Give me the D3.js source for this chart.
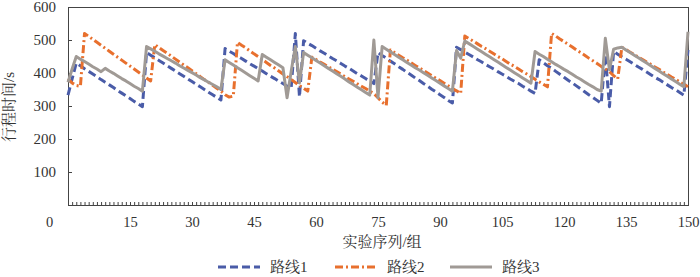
<!DOCTYPE html>
<html>
<head>
  <meta charset="utf-8" />
  <title>行程时间</title>
  <script src="https://cdnjs.cloudflare.com/ajax/libs/d3/7.8.5/d3.min.js"></script>
  <style>
    body { margin: 0; background: #fff; }
    text { font-family: "Liberation Serif", "Noto Serif CJK SC", "Noto Sans CJK SC", serif; fill: #333; }
  </style>
</head>
<body>
  <svg id="chart" width="700" height="277"></svg>
  <script>
    // series names and tick labels
    let names = ['路线1', '路线2', '路线3']
    let xTicks = [0, 15, 30, 45, 60, 75, 90, 105, 120, 135, 150]
    let yTicks = [100, 200, 300, 400, 500, 600]

    let route1 = [
      333, 382, 430, 422, 413, 405, 397, 389, 380, 372, 364, 356, 347, 339, 331, 323, 314, 306, 298,
      462, 454, 446, 438, 430, 422, 414, 406, 398, 390, 382, 374, 366, 358, 350, 342, 334, 326, 318,
      474, 466, 459, 451, 444, 436, 428, 421, 413, 406, 398, 390, 383, 375, 368, 360,
      356, 520, 328, 498, 490, 483, 475, 467, 460, 452, 444, 437, 429, 421, 414, 406, 398, 391, 383, 375, 368,
      462, 453, 445, 436, 428, 419, 411, 402, 394, 385, 377, 368, 360, 351, 343, 334, 326, 317, 309,
      478, 471, 463, 456, 449, 441, 434, 426, 419, 412, 404, 397, 390, 382, 375, 368, 360, 353, 345, 338,
      440, 431, 422, 414, 405, 396, 387, 378, 370, 361, 352, 343, 334, 326, 317, 308,
      455, 298, 465, 457, 449, 442, 434, 426, 418, 411, 403, 395, 387, 380, 372, 364, 356, 349, 341, 333,
      470
    ]
    let route2 = [
      382, 370, 362, 360, 520, 511, 502, 493, 484, 475, 466, 457, 448, 439, 430, 421, 412, 403, 394, 385,
      376, 486, 477, 468, 460, 451, 442, 433, 424, 416, 407, 398, 389, 380, 372, 363, 354, 345,
      334, 327, 330, 493, 484, 476, 467, 458, 450, 441, 432, 423, 415, 406, 397, 389, 380, 371, 362, 354, 345,
      448, 441, 433, 426, 419, 411, 404, 397, 389, 382, 375, 367, 360, 353, 345, 338,
      325, 312, 302, 470, 462, 454, 446, 439, 431, 423, 415, 408, 400, 392, 384, 377, 369, 361, 353, 346, 338,
      512, 504, 497, 489, 481, 474, 466, 458, 450, 443, 435, 427, 420, 412, 404, 397, 389, 381, 373, 366, 358,
      520, 512, 503, 495, 487, 479, 470, 462, 454, 445, 437, 429, 420, 412, 404,
      392, 382, 478, 471, 463, 456, 448, 441, 433, 426, 418, 411, 403, 396, 388, 381, 373, 366, 358
    ]
    let route3 = [
      372, 412, 450, 442, 435, 427, 419, 412, 404, 414, 406, 399, 391, 383, 376, 368, 360, 353, 345,
      480, 473, 466, 458, 451, 444, 437, 430, 422, 415, 408, 401, 394, 386, 379, 372, 365, 358, 350,
      440, 432, 424, 416, 408, 400, 392, 384, 376, 456, 448, 440, 432, 424, 416,
      325, 405, 480, 370, 462, 454, 446, 438, 430, 422, 414, 406, 398, 390, 382, 373, 365, 357, 349, 341, 333,
      500, 325, 480, 472, 464, 456, 448, 440, 432, 424, 416, 409, 401, 393, 385, 377, 369, 361, 353, 345,
      468, 445, 497, 489, 481, 473, 465, 457, 449, 441, 433, 425, 417, 409, 401, 393, 385, 377, 369,
      465, 457, 450, 442, 434, 426, 419, 411, 404, 396, 388, 381, 373, 365, 358, 350,
      345, 505, 410, 472, 476, 478, 470, 462, 454, 446, 438, 430, 422, 414, 406, 398, 390, 382, 374, 366, 358,
      525
    ]

    let colors = ['#4a5ca8', '#e8702e', '#a09a95']
    let dashes = ['8,4', '8,3,2,3', null]

    let svg = d3.select('#chart')
    let mLeft = 68, mRight = 688, mTop = 7, mBottom = 205

    let x = d3.scaleLinear().domain([0, 150]).range([mLeft, mRight])
    let y = d3.scaleLinear().domain([0, 600]).range([mBottom, mTop])

    // frame
    svg.append('rect')
      .attr('x', mLeft + 0.5).attr('y', mTop + 0.5)
      .attr('width', mRight - mLeft).attr('height', mBottom - mTop)
      .attr('fill', 'none').attr('stroke', '#444').attr('stroke-width', 1)

    // y axis, ticks inside
    let yAxis = d3.axisLeft(y).tickValues(yTicks).tickSizeInner(-4).tickSizeOuter(0).tickPadding(12)
    let gy = svg.append('g').attr('transform', `translate(${mLeft},0)`).call(yAxis)
    gy.selectAll('text').style('font-size', '15px')

    // x axis minor ticks, one per experiment, pointing up
    let xMinor = d3.axisBottom(x).tickValues(d3.range(0, 151)).tickSizeInner(-3).tickSizeOuter(0).tickFormat('')
    svg.append('g').attr('transform', `translate(0,${mBottom})`).call(xMinor)

    // x axis labels
    let xAxis = d3.axisBottom(x).tickValues(xTicks).tickSize(0).tickPadding(12)
    let gx = svg.append('g').attr('transform', `translate(0,${mBottom})`).call(xAxis)
    gx.select('.domain').remove()
    gx.selectAll('text').style('font-size', '14.5px')
      .attr('dx', d => d === 0 ? -19 : 0)

    svg.selectAll('.domain, .tick line').attr('stroke', '#444')

    // lines
    let series = [route1, route2, route3]
    let line = d3.line().x((d, i) => x(i)).y(d => y(d))
    svg.append('g').selectAll('path')
      .data(series)
      .join('path')
      .attr('d', d => line(d))
      .attr('fill', 'none')
      .attr('stroke', (d, i) => colors[i])
      .attr('stroke-width', 3)
      .attr('stroke-dasharray', (d, i) => dashes[i])
      .attr('stroke-linejoin', 'round')

    // axis titles
    svg.append('text')
      .attr('x', (mLeft + mRight) / 2 + 4).attr('y', 247)
      .attr('text-anchor', 'middle').style('font-size', '15px')
      .text('实验序列/组')
    svg.append('text')
      .attr('transform', 'translate(14,107) rotate(-90)')
      .attr('text-anchor', 'middle').style('font-size', '15px')
      .text('行程时间/s')

    // legend
    let legendX = [218, 335, 450]
    let lg = svg.append('g').selectAll('g').data(names).join('g')
      .attr('transform', (d, i) => `translate(${legendX[i]},267)`)
    lg.append('line')
      .attr('x1', 0).attr('x2', 42).attr('y1', 0).attr('y2', 0)
      .attr('stroke', (d, i) => colors[i])
      .attr('stroke-width', 3)
      .attr('stroke-dasharray', (d, i) => dashes[i])
    lg.append('text')
      .attr('x', 52).attr('y', 5)
      .style('font-size', '15px')
      .text(d => d)
  </script>
</body>
</html>
